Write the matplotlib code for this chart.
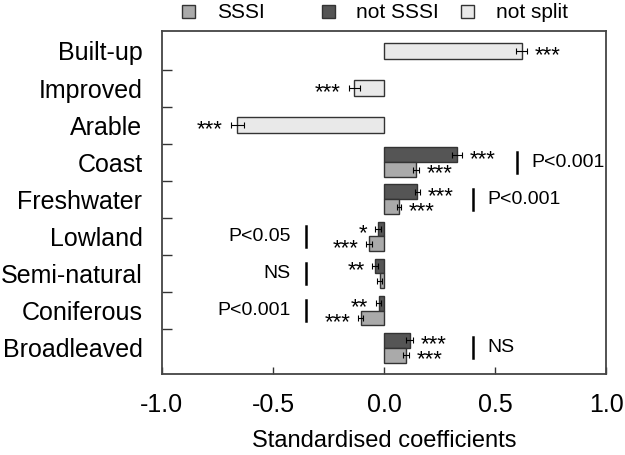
import matplotlib.pyplot as plt
import numpy as np
from matplotlib.patches import Rectangle

plt.rcParams['font.family'] = ['Liberation Sans', 'DejaVu Sans']

categories = ['Built-up', 'Improved', 'Arable', 'Coast', 'Freshwater',
              'Lowland', 'Semi-natural', 'Coniferous', 'Broadleaved']

# first three categories: not split
notsplit_vals = [0.62, -0.135, -0.66]
notsplit_err = [0.025, 0.025, 0.03]
notsplit_sig = ['***', '***', '***']

# remaining six: split into SSSI / not SSSI
sssi_vals = [0.145, 0.068, -0.068, -0.02, -0.106, 0.10]
sssi_err = [0.014, 0.01, 0.013, 0.011, 0.011, 0.013]
sssi_sig = ['***', '***', '***', '', '***', '***']

notsssi_vals = [0.33, 0.15, -0.027, -0.04, -0.025, 0.115]
notsssi_err = [0.022, 0.012, 0.013, 0.013, 0.012, 0.015]
notsssi_sig = ['***', '***', '*', '**', '**', '***']

p_labels = ['P<0.001', 'P<0.001', 'P<0.05', 'NS', 'P<0.001', 'NS']

series_labels = ['SSSI', 'not SSSI', 'not split']
colors = ['#aaaaaa', '#555555', '#e9e9e9']

# layout
pline_x = [0.6, 0.4, -0.35, -0.35, -0.35, 0.4]
edge = '#333333'
fs_lab = 18
fs_star = 16
fs_p = 14

fig = plt.figure(figsize=(6.25, 4.55), dpi=100)
ax = fig.add_axes([0.259, 0.178, 0.711, 0.754])

y = np.arange(len(categories))
y_ns = y[:3]
y_sp = y[3:]
h = 0.4


def stars(ax, vals, errs, sigs, ys):
    for v, e, s, yy in zip(vals, errs, sigs, ys):
        if not s:
            continue
        if v >= 0:
            ax.text(v + e + 0.035, yy + 0.12, s, ha='left', va='center', fontsize=fs_star)
        else:
            ax.text(v - e - 0.035, yy + 0.12, s, ha='right', va='center', fontsize=fs_star)


ekw = dict(ecolor='k', capsize=2.5, elinewidth=0.8, capthick=0.8)
ax.barh(y_ns, notsplit_vals, height=0.42, xerr=notsplit_err, color=colors[2],
        edgecolor=edge, linewidth=1, error_kw=ekw)
ax.barh(y_sp - h / 2, notsssi_vals, height=h, xerr=notsssi_err, color=colors[1],
        edgecolor=edge, linewidth=1, error_kw=ekw)
ax.barh(y_sp + h / 2, sssi_vals, height=h, xerr=sssi_err, color=colors[0],
        edgecolor=edge, linewidth=1, error_kw=ekw)

stars(ax, notsplit_vals, notsplit_err, notsplit_sig, y_ns)
stars(ax, notsssi_vals, notsssi_err, notsssi_sig, y_sp - h / 2)
stars(ax, sssi_vals, sssi_err, sssi_sig, y_sp + h / 2)

for px, lab, yy in zip(pline_x, p_labels, y_sp):
    ax.plot([px, px], [yy - 0.28, yy + 0.28], color='k', lw=1.8)
    if px > 0:
        ax.text(px + 0.063, yy, lab, ha='left', va='center', fontsize=fs_p)
    else:
        ax.text(px - 0.07, yy, lab, ha='right', va='center', fontsize=fs_p)

ax.set_xlim(-1, 1)
ax.set_ylim(8.71, -0.54)
ax.set_xticks([-1, -0.5, 0, 0.5, 1])
ax.set_xticklabels(['-1.0', '-0.5', '0.0', '0.5', '1.0'])
ax.set_yticks(y)
ax.set_yticklabels(categories)
ax.set_yticks(y[:-1] + 0.5, minor=True)
ax.tick_params(axis='y', which='major', length=0, pad=14, labelsize=fs_lab)
ax.tick_params(axis='y', which='minor', direction='in', length=7, width=1, color='#333333')
ax.tick_params(axis='x', direction='in', length=5, width=1, pad=14, labelsize=fs_lab,
               color='#333333')
ax.set_xlabel('Standardised coefficients', fontsize=17, labelpad=9)
for sp in ax.spines.values():
    sp.set_color('#444444')
    sp.set_linewidth(1.3)

# legend above the axes
W, H = 625, 455
for i, (lab, c) in enumerate(zip(series_labels, colors)):
    cx = 188.5 + 139.5 * i
    fig.add_artist(Rectangle(((cx - 6.5) / W, 1 - 17.5 / H), 13 / W, 12 / H,
                             transform=fig.transFigure, facecolor=c,
                             edgecolor=edge, linewidth=1))
    fig.text((cx + 28.5) / W, 1 - 12 / H, lab, ha='left', va='center', fontsize=15)

fig.savefig('out.png', dpi=100)
